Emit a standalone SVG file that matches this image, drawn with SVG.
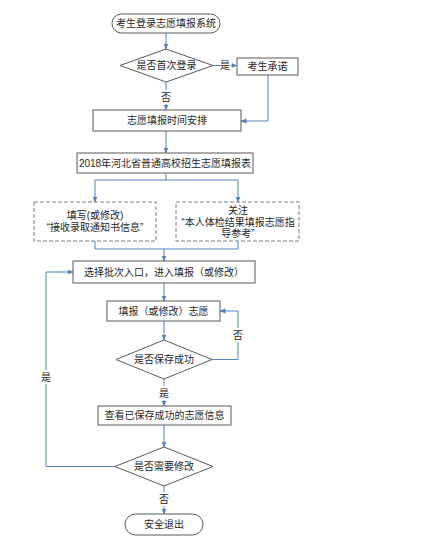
<svg xmlns="http://www.w3.org/2000/svg" width="423" height="546" viewBox="0 0 423 546">
<defs>
<marker id="ah" viewBox="0 0 6 6" refX="5.5" refY="3" markerWidth="6" markerHeight="6" orient="auto" markerUnits="userSpaceOnUse">
<path d="M0,0.5 L6,3 L0,5.5 Z" fill="#4f81bd"/>
</marker>
<style>
.b{fill:#fff;stroke:#595959;stroke-width:1}
.d{fill:#fff;stroke:#7f7f7f;stroke-width:1;stroke-dasharray:4 2}
.t{font-family:"Liberation Sans","Noto Sans CJK SC",sans-serif;font-size:10px;fill:#262626;text-anchor:middle}
.c{fill:none;stroke:#4f81bd;stroke-width:1}
.a{marker-end:url(#ah)}
</style>
</defs>
<rect width="423" height="546" fill="#fff"/>
<g id="connectors">
<path class="c a" d="M166,33 V49"/>
<path class="c" d="M213,65.5 H220"/>
<path class="c a" d="M231,65.5 H237"/>
<path class="c a" d="M268,75 V121 H241"/>
<path class="c" d="M166,82 V90"/>
<path class="c a" d="M166,104 V110"/>
<path class="c a" d="M166,131 V153"/>
<path class="c" d="M166,173 V180 M95,180 H238"/>
<path class="c a" d="M95,180 V202"/>
<path class="c a" d="M238,180 V202"/>
<path class="c" d="M95,241 V249 H238 V241"/>
<path class="c a" d="M164,249 V261"/>
<path class="c a" d="M164,283 V301"/>
<path class="c a" d="M164,321 V340"/>
<path class="c" d="M212,359.5 H238 V342"/>
<path class="c a" d="M238,328 V311 H220"/>
<path class="c" d="M164,379 V386"/>
<path class="c a" d="M164,400 V406"/>
<path class="c a" d="M164,425 V447"/>
<path class="c" d="M115,466.5 H46 V384"/>
<path class="c a" d="M46,370 V272 H73"/>
<path class="c" d="M164,486 V492"/>
<path class="c a" d="M164,506 V514"/>
<text class="t" x="225" y="69">是</text>
<text class="t" x="166" y="101">否</text>
<text class="t" x="238" y="339">否</text>
<text class="t" x="164" y="397">是</text>
<text class="t" x="46" y="381">是</text>
<text class="t" x="164" y="503">否</text>
</g>
<g id="start"><rect class="b" x="112" y="14" width="108" height="19" rx="9.5"/><text class="t" x="166" y="27">考生登录志愿填报系统</text></g>
<g id="first-login"><path class="b" d="M166,49 L213,65.5 L166,82 L120,65.5 Z"/><text class="t" x="166.5" y="69">是否首次登录</text></g>
<g id="promise"><rect class="b" x="237" y="58" width="61" height="17"/><text class="t" x="267.5" y="70">考生承诺</text></g>
<g id="schedule"><rect class="b" x="93" y="110" width="148" height="21"/><text class="t" x="167" y="124">志愿填报时间安排</text></g>
<g id="form"><rect class="b" x="77" y="153" width="176" height="20"/><text class="t" x="165" y="166.5">2018年河北省普通高校招生志愿填报表</text></g>
<g id="fill-info"><rect class="d" x="34" y="202" width="122" height="39"/><text class="t" x="95" y="219">填写(或修改)</text><text class="t" x="95" y="231">“接收录取通知书信息”</text></g>
<g id="health"><rect class="d" x="176" y="202" width="123" height="39"/><text class="t" x="238" y="214">关注</text><text class="t" x="238" y="226">“本人体检结果填报志愿指</text><text class="t" x="238" y="237">导参考”</text></g>
<g id="select-batch"><rect class="b" x="73" y="261" width="182" height="22"/><text class="t" x="164" y="275.5">选择批次入口，进入填报（或修改）</text></g>
<g id="fill-wish"><rect class="b" x="107" y="301" width="113" height="20"/><text class="t" x="163.5" y="314.5">填报（或修改）志愿</text></g>
<g id="saved"><path class="b" d="M164,340 L212,359.5 L164,379 L116,359.5 Z"/><text class="t" x="164" y="363">是否保存成功</text></g>
<g id="view"><rect class="b" x="98" y="406" width="133" height="19"/><text class="t" x="164.5" y="419">查看已保存成功的志愿信息</text></g>
<g id="need-modify"><path class="b" d="M164,447 L213,466.5 L164,486 L115,466.5 Z"/><text class="t" x="164" y="470">是否需要修改</text></g>
<g id="exit"><rect class="b" x="125" y="514" width="78" height="21" rx="10.5"/><text class="t" x="164" y="528">安全退出</text></g>
</svg>
